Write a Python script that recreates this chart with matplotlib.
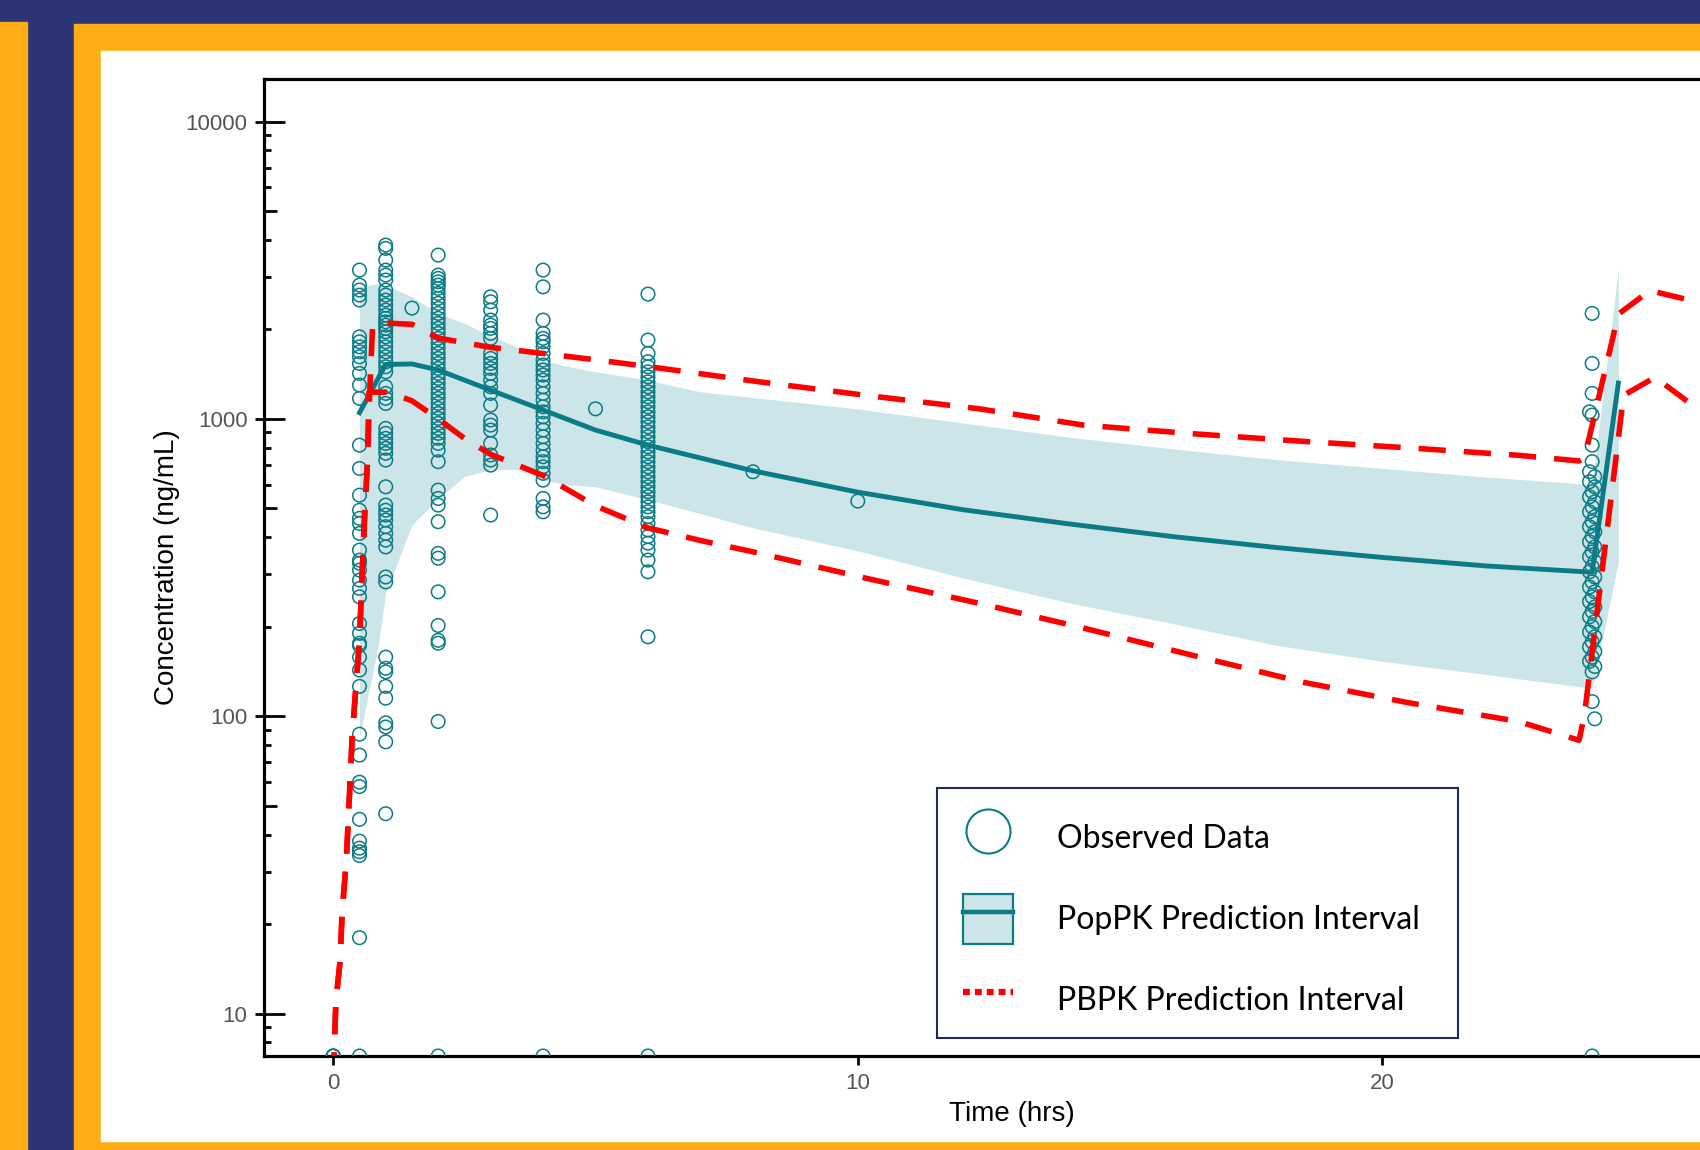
import matplotlib.pyplot as plt
import numpy as np
from matplotlib.lines import Line2D
from matplotlib.patches import Patch, Rectangle
from matplotlib.ticker import LogLocator, NullLocator

# colours
navy = '#2c3475'
orange = '#ffad14'
teal = '#0b7b85'
band_col = '#cce5e8'
red = '#ff0000'
grey = '#555555'

# observed concentrations (ng/mL) read per nominal sampling time (hrs)
conc_05 = [3165, 2818, 2712, 2608, 2510, 1888, 1816, 1747, 1681, 1617, 1536, 1422, 1299, 1172,
           816, 681, 554, 493, 463, 445, 412, 362, 335, 327, 310, 287, 269, 252, 205, 190, 176,
           173, 158, 143, 126, 87, 74, 60, 58, 45, 38, 36, 35, 34, 18]
conc_1 = [3841, 3744, 3420, 3165, 3045, 2930, 2712, 2608, 2510, 2413, 2322, 2234, 2178, 2120,
          2067, 2015, 1963, 1888, 1816, 1747, 1681, 1617, 1556, 1497, 1440, 1282, 1218, 1172,
          1127, 929, 894, 860, 827, 796, 766, 727, 591, 513, 493, 475, 457, 434, 412, 391, 371,
          294, 283, 158, 145, 141, 126, 115, 95, 92, 82, 47]
conc_2 = [3555, 3045, 2968, 2891, 2818, 2747, 2642, 2543, 2446, 2353, 2263, 2178, 2095, 2015,
          1939, 1865, 1794, 1726, 1660, 1597, 1536, 1478, 1422, 1368, 1316, 1266, 1218, 1172,
          1127, 1085, 1043, 1004, 966, 929, 894, 860, 827, 785, 718, 576, 540, 513, 451, 353,
          340, 262, 202, 180, 176, 96]
conc_3 = [2574, 2476, 2322, 2149, 2067, 2015, 1939, 1865, 1660, 1597, 1536, 1478, 1422, 1350,
          1282, 1218, 1113, 991, 953, 917, 827, 756, 727, 699, 475]
conc_4 = [3165, 2780, 2149, 1939, 1865, 1816, 1747, 1660, 1576, 1517, 1460, 1404, 1350, 1282,
          1218, 1157, 1098, 1056, 1016, 966, 917, 871, 827, 785, 746, 718, 690, 656, 622, 540,
          506, 487]
conc_6 = [2628, 1841, 1660, 1556, 1497, 1440, 1385, 1332, 1282, 1233, 1187, 1142, 1098, 1056,
          1016, 978, 940, 905, 871, 838, 806, 775, 746, 718, 690, 664, 639, 615, 591, 569, 547,
          526, 506, 487, 469, 445, 423, 402, 382, 362, 335, 306, 185]
# trough samples, actual times scatter a little around 24 h
t_24 = [24.0, 24.0, 24.0, 23.95, 24.0, 24.0, 24.0, 23.95, 24.05, 23.95,
        24.05, 24.0, 23.95, 24.05, 24.0, 23.95, 24.05, 24.0, 23.95, 24.05,
        24.0, 23.95, 24.05, 24.0, 23.95, 24.05, 24.0, 23.95, 24.05, 24.0,
        23.95, 24.05, 24.0, 23.95, 24.05, 24.0, 23.95, 24.05, 24.0, 23.95,
        24.05, 24.0, 23.95, 24.05, 24.0, 23.95, 24.05, 24.0, 24.0, 24.05]
conc_24 = [2263, 1536, 1218, 1056, 1030, 816, 718, 664, 639, 615,
           591, 569, 547, 526, 506, 487, 469, 451, 434, 417,
           402, 386, 371, 357, 344, 331, 318, 306, 294, 283,
           272, 262, 252, 243, 233, 225, 216, 208, 200, 192,
           185, 178, 171, 165, 158, 153, 147, 141, 112, 98]
single_t = [1.5, 5, 8, 10]
single_c = [2358, 1081, 664, 529]
# below-quantification samples, drawn on the axis floor
blq_t = [0, 0, 0, 0.5, 2, 4, 6, 24]
y_floor = 7.2

# PopPK median and prediction interval
pop_t = [0.5, 1.0, 1.5, 2, 3, 4, 5, 6, 8, 10, 12, 14, 16, 18, 20, 22, 24, 24.5]
pop_med = [1049, 1524, 1530, 1460, 1249, 1071, 917, 816, 669, 567, 495, 444, 402, 369, 342, 320,
           305, 1320]
band_t = [0.5, 0.85, 1.0, 1.5, 2, 2.5, 3, 3.5, 4, 4.5, 5, 6, 7, 8, 10, 12, 14, 16, 18, 20, 22,
          24, 24.5]
band_hi = [2780, 2850, 2818, 2574, 2263, 2095, 1900, 1747, 1576, 1497, 1440, 1350, 1233, 1180,
           1080, 969, 869, 793, 729, 682, 637, 601, 3193]
band_lo = [85, 170, 260, 440, 540, 640, 675, 675, 622, 600, 591, 535, 480, 430, 360, 292, 241,
           205, 173, 153, 138, 124, 331]

# PBPK prediction interval
pb_t_hi = [0, 0.05, 0.13, 0.17, 0.25, 0.32, 0.36, 0.42, 0.5, 0.55, 0.6, 0.65, 0.7, 0.75, 1.0,
           1.5, 2.0, 3.0, 4.0, 5.0, 6.0, 8.1, 10.2, 12.3, 14.3, 16.4, 18.5, 20.5, 22.6, 23.75,
           23.85, 24.5, 25.1, 26.1, 27.5]
pb_hi = [6, 11, 15, 22, 33, 60, 85, 118, 180, 300, 480, 700, 1300, 2050, 2100, 2080, 1870, 1740,
         1660, 1580, 1500, 1334, 1197, 1082, 953, 891, 840, 799, 754, 722, 735, 2250, 2700, 2450,
         2150]
pb_t_lo = [0, 0.05, 0.13, 0.17, 0.25, 0.32, 0.36, 0.42, 0.5, 0.55, 0.6, 0.65, 0.68, 1.0, 1.1,
           1.5, 2.0, 2.5, 3.0, 4.0, 5.0, 6.0, 7.0, 8.1, 10.2, 12.3, 14.3, 16.4, 18.5, 20.5, 22.6,
           23.75, 23.85, 24.6, 25.2, 26.1, 27.5]
pb_lo = [6, 11, 15, 22, 33, 60, 85, 118, 180, 300, 480, 700, 1230, 1230, 1220, 1150, 1000, 860,
         760, 645, 510, 430, 390, 354, 290, 240, 198, 160, 130, 111, 96, 83, 100, 1200, 1380,
         1050, 720]

obs_t = np.concatenate([np.full(len(conc_05), 0.5), np.full(len(conc_1), 1.0),
                        np.full(len(conc_2), 2.0), np.full(len(conc_3), 3.0),
                        np.full(len(conc_4), 4.0), np.full(len(conc_6), 6.0),
                        t_24, single_t, blq_t])
obs_c = np.concatenate([conc_05, conc_1, conc_2, conc_3, conc_4, conc_6, conc_24, single_c,
                        np.full(len(blq_t), y_floor)])

W, H = 1700, 1150
fig = plt.figure(figsize=(W / 100, H / 100), dpi=100, facecolor=navy)

# frame: orange strip, orange border and white panel
fig.add_artist(Rectangle((0, 0), 27 / W, (H - 22) / H, transform=fig.transFigure,
                         color=orange, zorder=-10))
fig.add_artist(Rectangle((74 / W, 0), 1, (H - 24) / H, transform=fig.transFigure,
                         color=orange, zorder=-10))
fig.add_artist(Rectangle((101 / W, 9 / H), 1, (1141 - 51) / H, transform=fig.transFigure,
                         color='white', zorder=-9))

ax = fig.add_axes([263.5 / W, 94 / H, (1760 - 263.5) / W, 977 / H])
ax.set_yscale('log')

ax.fill_between(band_t, band_lo, band_hi, color=band_col, lw=0, zorder=1)
ax.plot(pop_t, pop_med, color=teal, lw=3.5, zorder=2)
ax.scatter(obs_t, obs_c, s=95, facecolors='none', edgecolors=teal, linewidths=1.1, zorder=3)
ax.plot(pb_t_hi, pb_hi, color=red, lw=4, dashes=(4.9, 3.25), zorder=4)
ax.plot(pb_t_lo, pb_lo, color=red, lw=4, dashes=(4.9, 3.25), zorder=4)

ax.set_xlim(-1.33, 27.2)
ax.set_ylim(y_floor, 13900)

for s in ax.spines.values():
    s.set_linewidth(2.3)
    s.set_color('black')

ax.set_xticks([0, 10, 20])
ax.tick_params(axis='x', direction='out', length=6.5, width=2, labelsize=16,
               labelcolor=grey, pad=6)
ax.xaxis.set_minor_locator(NullLocator())
for lab in ax.get_xticklabels():
    lab.set_fontfamily('Liberation Sans')

# y ticks: long inward majors, short inward minors, medium at the 5s
ax.set_yticks([10, 100, 1000, 10000])
ax.yaxis.set_minor_locator(LogLocator(base=10, subs=[2, 3, 4, 6, 7, 8, 9], numticks=20))
ax.tick_params(axis='y', which='major', direction='in', length=15, width=2, labelleft=False)
ax.tick_params(axis='y', which='minor', direction='in', length=5, width=2, labelleft=False)

lab_ax = ax.secondary_yaxis('left')
lab_ax.set_yticks([10, 100, 1000, 10000], labels=['10', '100', '1000', '10000'])
lab_ax.yaxis.set_minor_locator(NullLocator())
lab_ax.tick_params(axis='y', direction='out', length=6.5, width=2, labelsize=16,
                   labelcolor=grey, pad=5)
lab_ax.spines['left'].set_visible(False)
for lab in lab_ax.get_yticklabels():
    lab.set_fontfamily('Liberation Sans')

mid_ax = ax.secondary_yaxis('left')
mid_ax.set_yticks([5, 50, 500, 5000], labels=['', '', '', ''])
mid_ax.yaxis.set_minor_locator(NullLocator())
mid_ax.tick_params(axis='y', direction='in', length=9.4, width=2)
mid_ax.spines['left'].set_visible(False)

ax.set_xlabel('Time (hrs)', fontsize=20, family='Liberation Sans')
ax.set_ylabel('Concentration (ng/mL)', fontsize=20, family='Liberation Sans')
ax.xaxis.set_label_coords(0.5, -0.046)
ax.yaxis.set_label_coords(-0.0555, 0.5)

# legend (content without frame, the box is drawn separately)
h_obs = Line2D([], [], ls='', marker='o', markersize=31.7, mfc='none', mec=teal, mew=1.5)
h_pop = (Patch(facecolor=band_col, edgecolor=teal, linewidth=1.6),
         Line2D([], [], color=teal, lw=3.2))
h_pb = Line2D([], [], color=red, lw=4.5, linestyle=(0, (1.1, 0.8)))
ax.legend([h_obs, h_pop, h_pb],
          ['Observed Data', 'PopPK Prediction Interval', 'PBPK Prediction Interval'],
          loc='lower left',
          bbox_to_anchor=(941.3 / W, (H - 1046.3) / H, (1458.3 - 936.8) / W, 0.2),
          bbox_transform=fig.transFigure, mode='expand', borderaxespad=0,
          prop={'family': 'Lato', 'size': 23}, handlelength=1.57, handleheight=2.03,
          handletextpad=1.39, labelspacing=0.97, borderpad=0.67, frameon=False)
fig.add_artist(Rectangle((936.8 / W, (H - 1037.6) / H), (1458.3 - 936.8) / W,
                         (1037.6 - 788.2) / H, transform=fig.transFigure, fill=False,
                         edgecolor='#1f2a58', linewidth=1.5, zorder=6))

fig.savefig('out.png', dpi=100)
